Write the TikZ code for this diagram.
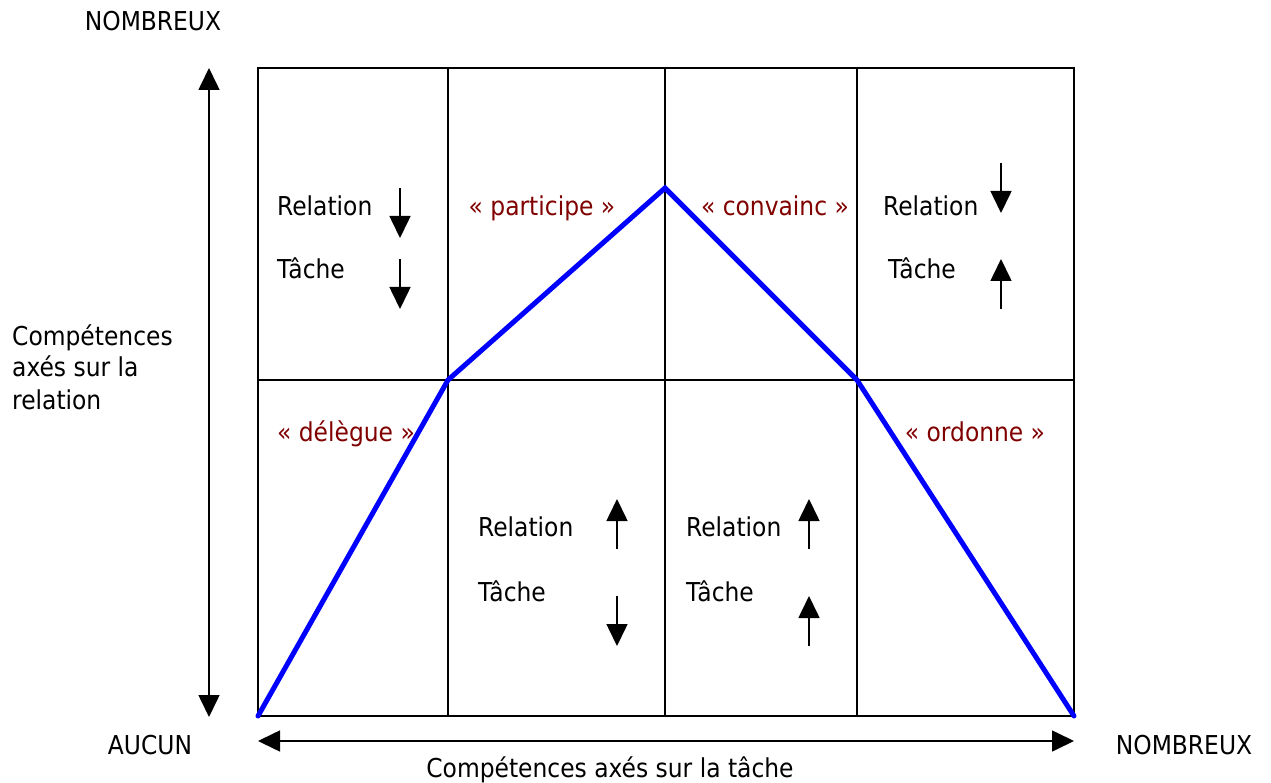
\documentclass[tikz,border=0pt]{standalone}
\usepackage{fontspec}
\setmainfont{DejaVu Sans Condensed}
\usetikzlibrary{arrows.meta}
\definecolor{lblred}{RGB}{128,0,0}
\definecolor{pureblue}{RGB}{0,0,255}
\tikzset{
  grid/.style={line width=1.6pt, black},
  axis/.style={line width=1.6pt, {Triangle[width=21pt,length=22pt]}-{Triangle[width=21pt,length=22pt]}},
  upar/.style={line width=1.6pt, -{Triangle[width=21pt,length=22pt]}},
  curve/.style={line width=5pt, pureblue, line join=miter, line cap=round},
  txt/.style={inner sep=0pt, font=\fontsize{26pt}{31pt}\selectfont, anchor=base west},
  ctxt/.style={inner sep=0pt, font=\fontsize{26pt}{31pt}\selectfont, anchor=base},
  role/.style={ctxt, text=lblred}
}
\begin{document}
\begin{tikzpicture}[x=1pt,y=-1pt]
\useasboundingbox (0,0) rectangle (1271,783);
% grid
\coordinate (TL) at (258,68);
\coordinate (BR) at (1074,716);
\draw[grid] (TL) rectangle (BR);
\draw[grid] (448,68) -- (448,716);
\draw[grid] (665,68) -- (665,716);
\draw[grid] (857,68) -- (857,716);
\draw[grid] (258,380) -- (1074,380);
% blue curve
\coordinate (p0) at (258,716);
\coordinate (p1) at (448,380);
\coordinate (p2) at (665,188);
\coordinate (p3) at (857,380);
\coordinate (p4) at (1074,716);
\draw[curve] (p0) -- (p1) -- (p2) -- (p3) -- (p4);
% axes
\coordinate (vtop) at (209,68);
\coordinate (vbot) at (209,717);
\draw[axis] (vtop) -- (vbot);
\coordinate (hl) at (258,741);
\coordinate (hr) at (1074,741);
\draw[axis] (hl) -- (hr);
% axis labels
\node[ctxt] (ntop) at (153,31) {NOMBREUX};
\node[ctxt] (aucun) at (150,754) {AUCUN};
\node[ctxt] (nright) at (1184,754) {NOMBREUX};
\node[ctxt] (xlab) at (610,777) {Compétences axés sur la tâche};
\node[txt] (yl1) at (12,345) {Compétences};
\node[txt] (yl2) at (12,377) {axés sur la};
\node[txt] (yl3) at (12,409) {relation};
% roles
\node[role] (part) at (542,216) {« participe »};
\node[role] (conv) at (775,216) {« convainc »};
\node[role] (dele) at (346,441) {« délègue »};
\node[role] (ordo) at (975,441) {« ordonne »};
% cell 1 (top left)
\node[txt] (r1) at (277,216) {Relation};
\node[txt] (t1) at (277,279) {Tâche};
\coordinate (a1s) at (400,188); \coordinate (a1e) at (400,238);
\draw[upar] (a1s) -- (a1e);
\coordinate (b1s) at (400,259); \coordinate (b1e) at (400,309);
\draw[upar] (b1s) -- (b1e);
% cell top right
\node[txt] (r4) at (883,216) {Relation};
\node[txt] (t4) at (888,279) {Tâche};
\coordinate (a4s) at (1001,163); \coordinate (a4e) at (1001,213);
\draw[upar] (a4s) -- (a4e);
\coordinate (b4s) at (1001,309); \coordinate (b4e) at (1001,259);
\draw[upar] (b4s) -- (b4e);
% cell bottom 2
\node[txt] (r2) at (478,536) {Relation};
\node[txt] (t2) at (478,601) {Tâche};
\coordinate (a2s) at (617,549); \coordinate (a2e) at (617,499);
\draw[upar] (a2s) -- (a2e);
\coordinate (b2s) at (617,596); \coordinate (b2e) at (617,646);
\draw[upar] (b2s) -- (b2e);
% cell bottom 3
\node[txt] (r3) at (686,536) {Relation};
\node[txt] (t3) at (686,601) {Tâche};
\coordinate (a3s) at (809,549); \coordinate (a3e) at (809,499);
\draw[upar] (a3s) -- (a3e);
\coordinate (b3s) at (809,646); \coordinate (b3e) at (809,596);
\draw[upar] (b3s) -- (b3e);
\end{tikzpicture}
\end{document}
